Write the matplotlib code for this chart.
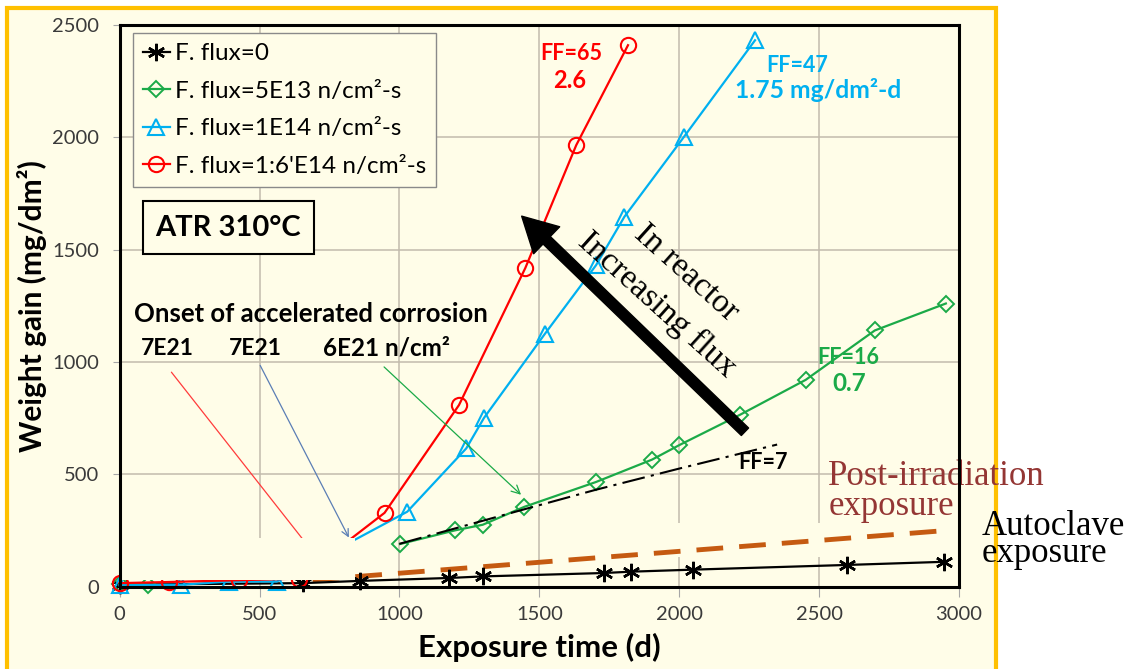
import matplotlib
matplotlib.use("Agg")
import matplotlib.pyplot as plt
from matplotlib.patches import Rectangle, FancyArrowPatch, ArrowStyle

NAN = float("nan")

# ---------------- data ----------------
flux0_days = [0, 655, 860, 1178, 1300, 1730, 1828, 2048, 2601, 2948]
flux0_gain = [8, 15, 25, 38, 45, 60, 66, 75, 96, 110]

# (gap in the original curve between the pre-irradiation points and 1000 d)
flux5e13_days = [0, 103, NAN, 1002, 1199, 1298, 1447, 1702, 1903, 2001, 2218, 2452, 2699, 2953]
flux5e13_gain = [10, 5, NAN, 189, 250, 275, 355, 465, 565, 630, 765, 920, 1140, 1260]

flux1e14_days = [0, 220, 390, 562, 1028, 1239, 1302, 1520, 1703, 1804, 2017, 2271]
flux1e14_gain = [5, 8, 22, 22, 333, 615, 750, 1125, 1431, 1646, 2002, 2432]

flux16e14_days = [0, 175, 425, 642, 947, 1213, 1450, 1632, 1817]
flux16e14_gain = [15, 20, 28, 35, 328, 808, 1418, 1965, 2410]

ff7_days = [1000, 1450, 1700, 2000, 2350]
ff7_gain = [190, 345, 430, 525, 632]

post_irr_days = [690, 2930]
post_irr_gain = [29, 247]

series_labels = ["F. flux=0", "F. flux=5E13 n/cm\u00b2-s",
                 "F. flux=1E14 n/cm\u00b2-s", "F. flux=1:6'E14 n/cm\u00b2-s"]
x_ticks = [0, 500, 1000, 1500, 2000, 2500, 3000]
y_ticks = [0, 500, 1000, 1500, 2000, 2500]

# ---------------- style ----------------
SANS = ["Lato", "DejaVu Sans"]
SERIF = ["Liberation Serif", "DejaVu Serif"]
plt.rcParams["font.family"] = SANS

CREAM = "#FFFDE8"
RED = "#FF0000"
BLUE = "#00B0F0"
GREEN = "#1BAA48"
BROWN = "#C55A11"
DARKRED = "#943634"
GRID = "#C2BBAC"

W, H = 1126, 669
fig = plt.figure(figsize=(W / 100, H / 100), dpi=100)
fig.patch.set_facecolor("white")

frame = Rectangle((7 / W, -0.05), (996 - 7) / W, (669 - 8) / H + 0.05,
                  transform=fig.transFigure, facecolor=CREAM,
                  edgecolor="#FFC000", lw=3, zorder=-10)
fig.add_artist(frame)

left, right, top, bottom = 119.6, 959, 25, 586.5
ax = fig.add_axes([left / W, 1 - bottom / H, (right - left) / W, (bottom - top) / H])
ax.set_facecolor(CREAM)
ax.set_xlim(0, 3000)
ax.set_ylim(0, 2500)
ax.set_xticks(x_ticks)
ax.set_yticks(y_ticks)
ax.set_axisbelow(True)
ax.grid(True, color=GRID, lw=1.1)
for sp in ax.spines.values():
    sp.set_color("black")
    sp.set_linewidth(2.2)
    sp.set_zorder(6)
ax.tick_params(axis="both", colors="#A6A6A6", labelcolor="#3A3A3A", labelsize=14.5)
ax.tick_params(axis="y", length=5, pad=10)
ax.tick_params(axis="x", length=7, pad=7)

# ---------------- series ----------------
ax.plot(flux0_days, flux0_gain, color="black", lw=1.6, marker=(6, 2, 0),
        ms=12.5, mew=1.8, label=series_labels[0], clip_on=False, zorder=3)
ax.plot(flux5e13_days, flux5e13_gain, color=GREEN, lw=1.6, marker="D", ms=8.5,
        mfc="none", mec=GREEN, mew=1.4, label=series_labels[1], clip_on=False, zorder=3)
ax.plot(flux1e14_days, flux1e14_gain, color=BLUE, lw=1.6, marker="^", ms=12,
        mfc="none", mec=BLUE, mew=1.5, label=series_labels[2], clip_on=False, zorder=3)
ax.plot(flux16e14_days, flux16e14_gain, color=RED, lw=1.6, marker="o", ms=11,
        mfc="none", mec=RED, mew=1.5, label=series_labels[3], clip_on=False, zorder=3)

ax.plot(ff7_days, ff7_gain, color="black", lw=1.5,
        linestyle=(0, (11, 3, 1.5, 3)), zorder=3.5)
ax.plot(post_irr_days, post_irr_gain, color=BROWN, lw=3.5,
        linestyle=(0, (5.5, 3.3)), zorder=2.5)

# background-coloured boxes that hide parts of the plot (as in the original)
ax.add_patch(Rectangle((0, 29), 842, 187, facecolor=CREAM, edgecolor="none", zorder=4))
ax.add_patch(Rectangle((1718, 131), 1072, 152, facecolor=CREAM, edgecolor="none", zorder=1))

# onset annotations
ax.annotate("", xy=(718, 110), xytext=(179, 964),
            arrowprops=dict(arrowstyle="-", color="#FF3B3B", lw=0.9), zorder=3.8)
ax.annotate("", xy=(824, 207), xytext=(498, 995),
            arrowprops=dict(arrowstyle="->,head_length=0.5,head_width=0.25",
                            color="#5B7EB5", lw=0.9), zorder=3.8)
ax.annotate("", xy=(1442, 400), xytext=(938, 986),
            arrowprops=dict(arrowstyle="->,head_length=0.6,head_width=0.3",
                            color=GREEN, lw=0.9), zorder=3.8)

# big arrow
big = FancyArrowPatch((2235, 689), (1437, 1649),
                      arrowstyle=ArrowStyle.Simple(head_length=25, head_width=27, tail_width=7.5),
                      mutation_scale=1, color="black", shrinkA=0, shrinkB=0, zorder=5)
ax.add_patch(big)

# ---------------- legend ----------------
leg = ax.legend(loc="upper left", bbox_to_anchor=(0.0158, 0.985), borderaxespad=0,
                fontsize=17.5, handlelength=1.13, handletextpad=0.2, labelspacing=0.68,
                borderpad=0.4, fancybox=False, framealpha=1, facecolor=CREAM,
                edgecolor="#8A8A8A")
leg.get_frame().set_linewidth(1.0)
leg.set_zorder(7)

# ---------------- texts ----------------
ax.text(389, 1598, "ATR 310\u00b0C", fontsize=21, fontweight="bold", ha="center", va="center",
        bbox=dict(boxstyle="square,pad=0.45", facecolor=CREAM, edgecolor="black", lw=1.5),
        zorder=7)

ax.text(51.5, 1179, "Onset of accelerated corrosion", fontsize=18.5, fontweight="bold",
        ha="left", va="baseline", zorder=7)
ax.text(76.5, 1030, "7E21", fontsize=16.5, fontweight="bold", ha="left", va="baseline")
ax.text(390, 1030, "7E21", fontsize=16.5, fontweight="bold", ha="left", va="baseline")
ax.text(727, 1030, "6E21 n/cm\u00b2", fontsize=17.5, fontweight="bold", ha="left", va="baseline")

ax.text(1614, 2374, "FF=65", fontsize=15.5, fontweight="bold", color=RED, ha="center", va="center")
ax.text(1610, 2254, "2.6", fontsize=17, fontweight="bold", color=RED, ha="center", va="center")
ax.text(2422, 2319, "FF=47", fontsize=15.5, fontweight="bold", color=BLUE, ha="center", va="center")
ax.text(2495, 2210, "1.75 mg/dm\u00b2-d", fontsize=17.8, fontweight="bold", color=BLUE,
        ha="center", va="center")
ax.text(2604, 1021, "FF=16", fontsize=15.5, fontweight="bold", color=GREEN, ha="center", va="center")
ax.text(2608, 906, "0.7", fontsize=17.5, fontweight="bold", color=GREEN, ha="center", va="center")
ax.text(2300, 554, "FF=7", fontsize=15.5, fontweight="bold", color="black", ha="center", va="center",
        zorder=6)

ax.text(2025, 1395, "In reactor", fontsize=24, family=SERIF, rotation=-42,
        rotation_mode="anchor", ha="center", va="center", zorder=6)
ax.text(1921, 1253, "Increasing flux", fontsize=24, family=SERIF, rotation=-42,
        rotation_mode="anchor", ha="center", va="center", zorder=6)

ax.text(2533, 452, "Post-irradiation", fontsize=25, family=SERIF, color=DARKRED,
        ha="left", va="baseline", zorder=6)
ax.text(2533, 318, "exposure", fontsize=25, family=SERIF, color=DARKRED,
        ha="left", va="baseline", zorder=6)
ax.text(3080, 230, "Autoclave", fontsize=25, family=SERIF, color="black",
        ha="left", va="baseline", clip_on=False, zorder=8)
ax.text(3080, 110, "exposure", fontsize=25, family=SERIF, color="black",
        ha="left", va="baseline", clip_on=False, zorder=8)

ax.set_xlabel("Exposure time (d)", fontsize=22.5, fontweight="bold", color="black")
ax.set_ylabel("Weight gain (mg/dm\u00b2)", fontsize=21.5, fontweight="bold", color="black")
ax.xaxis.set_label_coords(0.5, -0.083)
ax.yaxis.set_label_coords(-0.087, 0.5)

fig.savefig("out.png", dpi=100, facecolor=fig.get_facecolor())
